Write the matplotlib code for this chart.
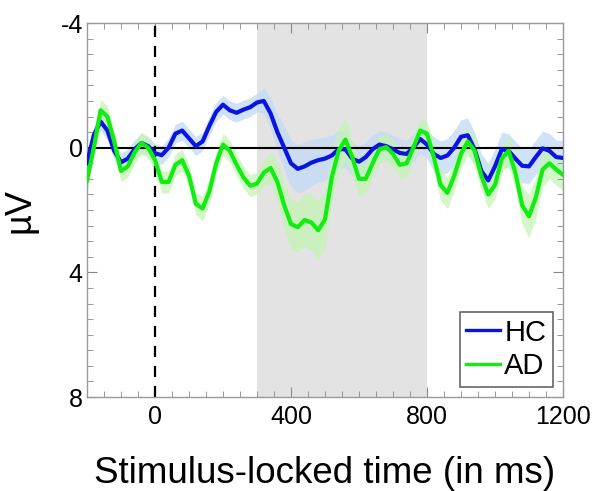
import numpy as np
import matplotlib
matplotlib.use("Agg")
import matplotlib.pyplot as plt
from matplotlib.ticker import MultipleLocator

plt.rcParams['font.family'] = ['Liberation Sans', 'DejaVu Sans']
plt.rcParams['axes.unicode_minus'] = False

# time axis (ms), sampled every 20 ms
time_ms = list(range(-200, 1201, 20))

# grand averages (uV)
hc_mean = [0.5, -0.4, -0.84, -0.55, 0.1, 0.47, 0.35, 0.05, -0.15, -0.05,
           0.18, 0.24, 0.0, -0.45, -0.55, -0.3, -0.05, -0.2, -0.7, -1.15,
           -1.38, -1.2, -1.12, -1.22, -1.3, -1.45, -1.5, -1.1, -0.5, 0.0,
           0.5, 0.68, 0.6, 0.48, 0.4, 0.35, 0.25, 0.05, 0.05, 0.35,
           0.45, 0.3, 0.05, -0.1, -0.05, 0.05, 0.17, 0.2, 0.0, -0.28,
           -0.1, 0.2, 0.33, 0.25, 0.0, -0.35, -0.4, 0.05, 0.75, 1.05,
           0.6, 0.05, 0.1, 0.35, 0.58, 0.6, 0.3, 0.02, 0.1, 0.3,
           0.33]
ad_mean = [1.05, 0.0, -1.2, -1.0, -0.2, 0.75, 0.6, 0.15, -0.15, 0.0,
           0.4, 1.1, 1.1, 0.55, 0.4, 0.9, 1.8, 1.95, 1.4, 0.5,
           -0.1, 0.1, 0.55, 0.95, 1.22, 1.15, 0.8, 0.65, 1.1, 1.85,
           2.45, 2.55, 2.32, 2.4, 2.65, 2.3, 0.95, 0.1, -0.26, 0.3,
           1.0, 1.0, 0.5, 0.05, -0.02, 0.2, 0.55, 0.5, 0.0, -0.55,
           -0.45, 0.3, 1.2, 1.45, 0.9, 0.2, -0.2, 0.1, 0.9, 1.5,
           1.2, 0.35, 0.1, 0.8, 1.85, 2.2, 1.6, 0.7, 0.5, 0.7,
           0.87]

# standard errors (uV)
hc_sem = ([0.3] * 16 + [0.3] * 10
          + [0.4, 0.5, 0.6, 0.7, 0.75, 0.78, 0.78]
          + [0.75, 0.7, 0.7, 0.65, 0.6, 0.6, 0.55, 0.5]
          + [0.5, 0.45, 0.45, 0.45, 0.45, 0.45, 0.45, 0.45, 0.45, 0.45]
          + [0.55] * 20)
ad_sem = ([0.35] * 16
          + [0.35, 0.4, 0.4, 0.35, 0.35, 0.35, 0.35, 0.35, 0.35, 0.35]
          + [0.4, 0.5, 0.65, 0.75, 0.8, 0.8, 0.85]
          + [0.9, 0.95, 0.9, 0.8, 0.7, 0.7, 0.6, 0.55]
          + [0.5, 0.45, 0.45, 0.45, 0.45, 0.45, 0.45, 0.4, 0.4, 0.4]
          + [0.45, 0.5, 0.5, 0.5, 0.45, 0.45, 0.45, 0.45, 0.45, 0.45,
             0.45, 0.45, 0.5, 0.6, 0.7, 0.65, 0.55, 0.5, 0.5, 0.5])

window = (300, 800)

t = np.array(time_ms)
hc = np.array(hc_mean)
ad = np.array(ad_mean)
hc_e = np.array(hc_sem)
ad_e = np.array(ad_sem)

fig = plt.figure(figsize=(5.95, 4.91), dpi=100)
ax = fig.add_axes([0.1462, 0.1914, 0.80, 0.7617])

# analysis window
ax.axvspan(window[0], window[1], color='#e3e3e3', lw=0, zorder=0)

# error bands
ax.fill_between(t, hc - hc_e, hc + hc_e, color='#c4dbf6', alpha=0.8, lw=0, zorder=1)
ax.fill_between(t, ad - ad_e, ad + ad_e, color='#c2f5b0', alpha=0.7, lw=0, zorder=1)

ax.axhline(0, color='black', lw=1.5, zorder=2)
ax.axvline(0, color='black', lw=1.6, ls=(0, (5, 4)), zorder=2)

ax.plot(t, hc, color='#0a14e0', lw=3, solid_joinstyle='round', label='HC', zorder=3)
ax.plot(t, ad, color='#10ee10', lw=3, solid_joinstyle='round', label='AD', zorder=3)

ax.set_xlim(-200, 1200)
ax.set_ylim(8, -4)
ax.set_xticks([0, 400, 800, 1200])
ax.set_yticks([-4, 0, 4, 8])
ax.xaxis.set_minor_locator(MultipleLocator(50))
ax.yaxis.set_minor_locator(MultipleLocator(0.5))
ax.tick_params(which='both', direction='in', top=True, right=True,
               color='#888888', labelsize=18)
ax.tick_params(axis='x', pad=6)
ax.tick_params(axis='y', pad=3)
ax.tick_params(which='major', length=7)
ax.tick_params(which='minor', length=4)
for s in ax.spines.values():
    s.set_color('#999999')
    s.set_linewidth(1)

ax.set_xlabel('Stimulus-locked time (in ms)', fontsize=26.5)
ax.xaxis.set_label_coords(0.5, -0.158)
ax.set_ylabel('µV', fontsize=26)
ax.yaxis.set_label_coords(-0.105, 0.5)

leg = ax.legend(loc='lower right', fontsize=21, handlelength=1.15, handletextpad=0.15,
                borderpad=0.22, labelspacing=0.2, borderaxespad=0.35,
                fancybox=False, framealpha=1)
leg.get_frame().set_edgecolor('#666666')
leg.get_frame().set_linewidth(1.2)
for h in leg.get_lines():
    h.set_linewidth(2.4)

fig.savefig('out.png', dpi=100)
